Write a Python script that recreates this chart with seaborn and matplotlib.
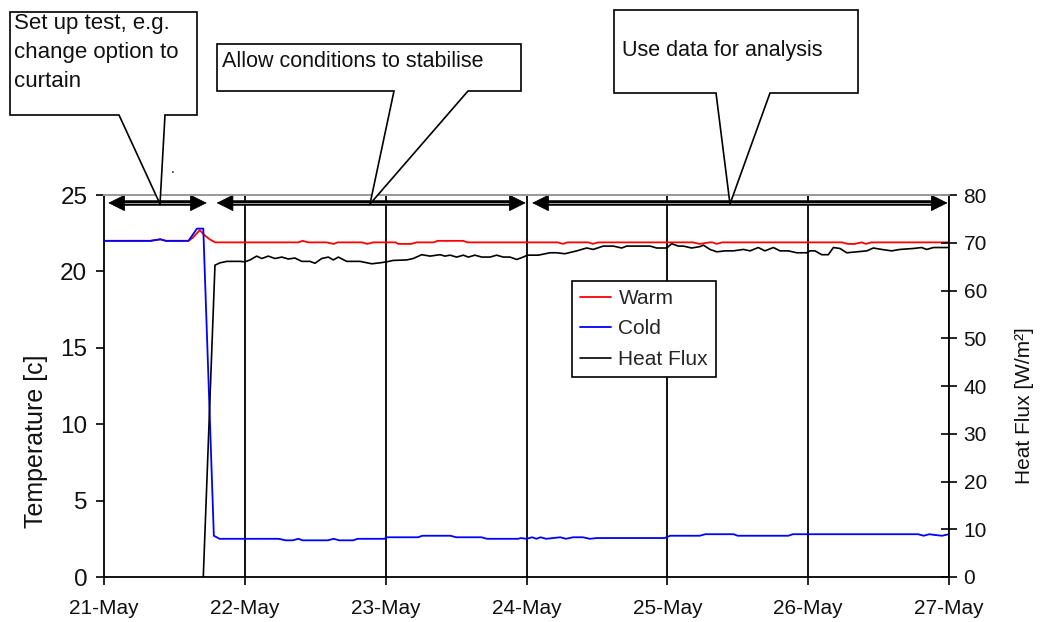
import numpy as np
import pandas as pd
import matplotlib
matplotlib.use("Agg")
import matplotlib.pyplot as plt
import matplotlib.transforms as mtransforms
from matplotlib.patches import Polygon
import seaborn as sns

# ---------------- data (days since 21-May 00:00) ----------------
warm_t = [0.0, 0.33, 0.40, 0.44, 0.60, 0.63, 0.66, 0.68, 0.71, 0.75, 0.79,
          1.38, 1.41, 1.45, 1.58, 1.63, 1.66, 1.83, 1.87, 1.91, 2.07, 2.09, 2.18,
          2.22, 2.34, 2.37, 2.55, 2.58, 3.22, 3.26, 3.29, 3.44, 3.47, 3.51, 4.18,
          4.23, 4.30, 4.32, 4.35, 4.39, 5.24, 5.28, 5.33, 5.38, 5.41, 5.45, 6.0]
warm_v = [22.0, 22.0, 22.1, 22.0, 22.0, 22.2, 22.5, 22.7, 22.4, 22.1, 21.9,
          21.9, 22.0, 21.9, 21.9, 21.8, 21.9, 21.9, 21.8, 21.9, 21.9, 21.8, 21.8,
          21.9, 21.9, 22.0, 22.0, 21.9, 21.9, 21.8, 21.9, 21.9, 21.8, 21.9, 21.9,
          21.8, 21.9, 21.9, 21.8, 21.9, 21.9, 21.8, 21.8, 21.9, 21.8, 21.9, 21.9]

cold_t = [0.0, 0.33, 0.40, 0.44, 0.60, 0.66, 0.705, 0.78, 0.82, 1.24, 1.29,
          1.34, 1.38, 1.41, 1.59, 1.63, 1.67, 1.77, 1.80, 1.99, 2.01, 2.23, 2.26,
          2.46, 2.50, 2.68, 2.72, 2.94, 2.96, 3.00, 3.04, 3.07, 3.10, 3.14, 3.19,
          3.24, 3.28, 3.33, 3.40, 3.45, 3.50, 3.98, 4.02, 4.23, 4.27, 4.47, 4.50,
          4.86, 4.89, 5.78, 5.82, 5.86, 5.90, 5.95, 6.0]
cold_v = [22.0, 22.0, 22.1, 22.0, 22.0, 22.8, 22.8, 2.7, 2.5, 2.5, 2.4,
          2.4, 2.5, 2.4, 2.4, 2.5, 2.4, 2.4, 2.5, 2.5, 2.6, 2.6, 2.7,
          2.7, 2.6, 2.6, 2.5, 2.5, 2.55, 2.5, 2.6, 2.5, 2.6, 2.5, 2.55,
          2.6, 2.5, 2.6, 2.6, 2.5, 2.55, 2.55, 2.7, 2.7, 2.8, 2.8, 2.7,
          2.7, 2.8, 2.8, 2.7, 2.8, 2.75, 2.7, 2.8]

flux_t = [0.705, 0.788, 0.824, 0.873, 0.966, 1.00, 1.037, 1.084, 1.12, 1.167,
          1.214, 1.262, 1.309, 1.356, 1.404, 1.463, 1.498, 1.546, 1.593, 1.628,
          1.664, 1.723, 1.818, 1.901, 1.960, 2.007, 2.054, 2.149, 2.196, 2.256,
          2.315, 2.386, 2.421, 2.457, 2.504, 2.551, 2.587, 2.634, 2.682, 2.741,
          2.788, 2.835, 2.883, 2.930, 2.977, 3.006, 3.084, 3.167, 3.214, 3.273,
          3.357, 3.427, 3.474, 3.545, 3.616, 3.676, 3.711, 3.877, 3.925, 3.996,
          4.031, 4.078, 4.114, 4.173, 4.232, 4.256, 4.303, 4.351, 4.410, 4.469,
          4.540, 4.587, 4.646, 4.693, 4.753, 4.800, 4.859, 4.919, 4.990, 5.013,
          5.049, 5.096, 5.143, 5.179, 5.226, 5.274, 5.345, 5.416, 5.463, 5.522,
          5.593, 5.652, 5.747, 5.806, 5.841, 5.889, 6.000]
flux_v = [0.0, 65.3, 65.8, 66.1, 66.1, 66.0, 66.4, 67.2, 66.7, 67.2,
          66.7, 67.0, 66.6, 66.8, 66.1, 66.1, 65.7, 66.7, 67.0, 66.4,
          67.0, 66.1, 66.1, 65.6, 65.8, 66.0, 66.3, 66.4, 66.7, 67.5,
          67.2, 67.5, 67.2, 67.4, 67.0, 67.4, 67.0, 67.4, 67.0, 67.0,
          67.4, 67.0, 67.0, 66.5, 67.0, 67.4, 67.4, 67.9, 67.9, 67.7,
          68.3, 68.9, 68.6, 69.3, 69.3, 68.9, 69.3, 69.3, 68.9, 68.9,
          69.8, 69.3, 69.3, 68.9, 69.2, 69.5, 68.6, 68.1, 68.3, 68.3,
          68.6, 68.3, 69.0, 68.3, 69.0, 68.3, 68.3, 67.9, 67.9, 68.3,
          68.3, 67.5, 67.5, 69.0, 68.8, 67.9, 68.1, 68.3, 68.9, 68.6,
          68.3, 68.6, 68.8, 69.0, 68.6, 69.0, 69.0]

x_ticks = [0, 1, 2, 3, 4, 5, 6]
x_labels = ["21-May", "22-May", "23-May", "24-May", "25-May", "26-May", "27-May"]
temp_ticks = [0, 5, 10, 15, 20, 25]
flux_ticks = [0, 10, 20, 30, 40, 50, 60, 70, 80]

# phase arrows (day ranges) and callout texts
phase_ranges = [(0.03, 0.73), (0.80, 2.995), (3.04, 5.99)]
callout_texts = ["Set up test, e.g.\nchange option to\ncurtain",
                 "Allow conditions to stabilise",
                 "Use data for analysis"]

# ---------------- figure ----------------
sns.set_theme(style="white")
plt.rcParams['font.family'] = ['Liberation Sans', 'DejaVu Sans']

W, H = 1048, 622
fig = plt.figure(figsize=(W / 100, H / 100), dpi=100)
fig.patch.set_facecolor("white")
ax1 = fig.add_axes([104 / W, (H - 577) / H, (949 - 104) / W, (577 - 195) / H])
ax2 = ax1.twinx()

warm_df = pd.DataFrame({"t": warm_t, "v": warm_v})
cold_df = pd.DataFrame({"t": cold_t, "v": cold_v})
flux_df = pd.DataFrame({"t": flux_t, "v": flux_v})

sns.lineplot(data=warm_df, x="t", y="v", ax=ax1, color="#ff0000", lw=1.3,
             label="Warm", legend=False, zorder=3)
sns.lineplot(data=cold_df, x="t", y="v", ax=ax1, color="#0000ff", lw=1.3,
             label="Cold", legend=False, zorder=3)
sns.lineplot(data=flux_df, x="t", y="v", ax=ax2, color="#000000", lw=1.2,
             label="Heat Flux", legend=False, zorder=3)

ax1.set_xlim(0, 6)
ax1.set_ylim(0, 25)
ax2.set_ylim(0, 80)
ax1.set_xticks(x_ticks)
ax1.set_xticklabels(x_labels, fontsize=15)
ax1.set_yticks(temp_ticks)
ax1.set_yticklabels([str(v) for v in temp_ticks], fontsize=17.5)
ax2.set_yticks(flux_ticks)
ax2.set_yticklabels([str(v) for v in flux_ticks], fontsize=15)

for tx in x_ticks[1:]:
    ax1.axvline(tx, color="black", lw=1.3, zorder=2)

ax1.set_xlabel("")
ax1.set_ylabel("Temperature [c]", fontsize=18, color="#111111")
ax2.set_ylabel("Heat Flux [W/m²]", fontsize=15, color="#111111")
ax1.yaxis.set_label_coords((36 - 104) / 845, (577 - 441) / 382)
ax2.yaxis.set_label_coords((1024 - 104) / 845, (577 - 406) / 382)
ax1.yaxis.label.set_va("center")
ax2.yaxis.label.set_va("center")
ax2.yaxis.label.set_rotation(90)

ax1.tick_params(axis="x", direction="out", length=6, width=1.2, color="black",
                pad=10, bottom=True, labelcolor="#111111")
ax1.tick_params(axis="y", direction="out", length=6, width=1.2, color="black",
                pad=6, left=True, labelcolor="#111111")
ax2.tick_params(axis="y", direction="inout", length=11, width=1.2, color="black",
                pad=5, right=True, labelcolor="#111111")

for sp in ["left", "bottom"]:
    ax1.spines[sp].set_color("black")
    ax1.spines[sp].set_linewidth(1.3)
ax2.spines["right"].set_color("black")
ax2.spines["right"].set_linewidth(1.3)
ax2.spines["left"].set_visible(False)
ax2.spines["bottom"].set_visible(False)
ax1.spines["right"].set_visible(False)
ax1.spines["top"].set_color("#9a9a9a")
ax1.spines["top"].set_linewidth(1.3)
ax2.spines["top"].set_color("#9a9a9a")
ax2.spines["top"].set_linewidth(1.3)

# phase arrows (double headed, double-line shaft)
arrow_y = 24.48
for a, b in phase_ranges:
    ax1.plot([a + 0.07, b - 0.07], [arrow_y, arrow_y], color="black", lw=4.0,
             solid_capstyle="butt", zorder=6, clip_on=False)
    ax1.plot([a + 0.07, b - 0.07], [arrow_y, arrow_y], color="white", lw=0.7,
             solid_capstyle="butt", zorder=7, clip_on=False)
    ax1.annotate("", xy=(b, arrow_y), xytext=(a, arrow_y),
                 arrowprops=dict(arrowstyle="<|-|>,head_length=1.1,head_width=0.55",
                                 color="black", lw=0.6, shrinkA=0, shrinkB=0,
                                 mutation_scale=10),
                 zorder=8, annotation_clip=False)

# legend
handles1, labels1 = ax1.get_legend_handles_labels()
handles2, labels2 = ax2.get_legend_handles_labels()
leg = ax2.legend(handles1 + handles2, labels1 + labels2,
                 loc="upper left", bbox_to_anchor=(572 / W, 1 - 281 / H),
                 bbox_transform=fig.transFigure, fontsize=15, frameon=True,
                 fancybox=False, framealpha=1, edgecolor="black",
                 handlelength=1.5, handletextpad=0.35, labelspacing=0.55,
                 borderpad=0.38, borderaxespad=0)
leg.get_frame().set_linewidth(1.2)
leg.set_zorder(20)

# callouts (pixel coordinates, origin top-left)
pix = mtransforms.Affine2D().scale(1 / W, -1 / H).translate(0, 1) + fig.transFigure

def callout(x0, y0, x1, y1, b0, b1, tip):
    pts = [(x0, y0), (x1, y0), (x1, y1), (b1, y1), tip, (b0, y1), (x0, y1)]
    poly = Polygon(pts, closed=True, facecolor="white", edgecolor="black",
                   lw=1.2, transform=pix, zorder=30)
    fig.add_artist(poly)

callout(10, 12, 197, 115, 119, 165, (160, 204))
callout(217, 44, 521, 91, 394, 468, (370, 204))
callout(614, 10, 858, 93, 716, 770, (730, 204))

fig.text(14 / W, 1 - 13 / H, callout_texts[0], fontsize=16, va="top",
         ha="left", linespacing=1.5, color="#111111", zorder=31)
fig.text(222 / W, 1 - 51 / H, callout_texts[1], fontsize=15.5, va="top",
         ha="left", color="#111111", zorder=31)
fig.text(622 / W, 1 - 40 / H, callout_texts[2], fontsize=15.5, va="top",
         ha="left", color="#111111", zorder=31)
fig.text(173 / W, 1 - 176 / H, ".", fontsize=10, ha="center", va="bottom",
         color="#111111")

fig.savefig("out.png", dpi=100, facecolor="white")
